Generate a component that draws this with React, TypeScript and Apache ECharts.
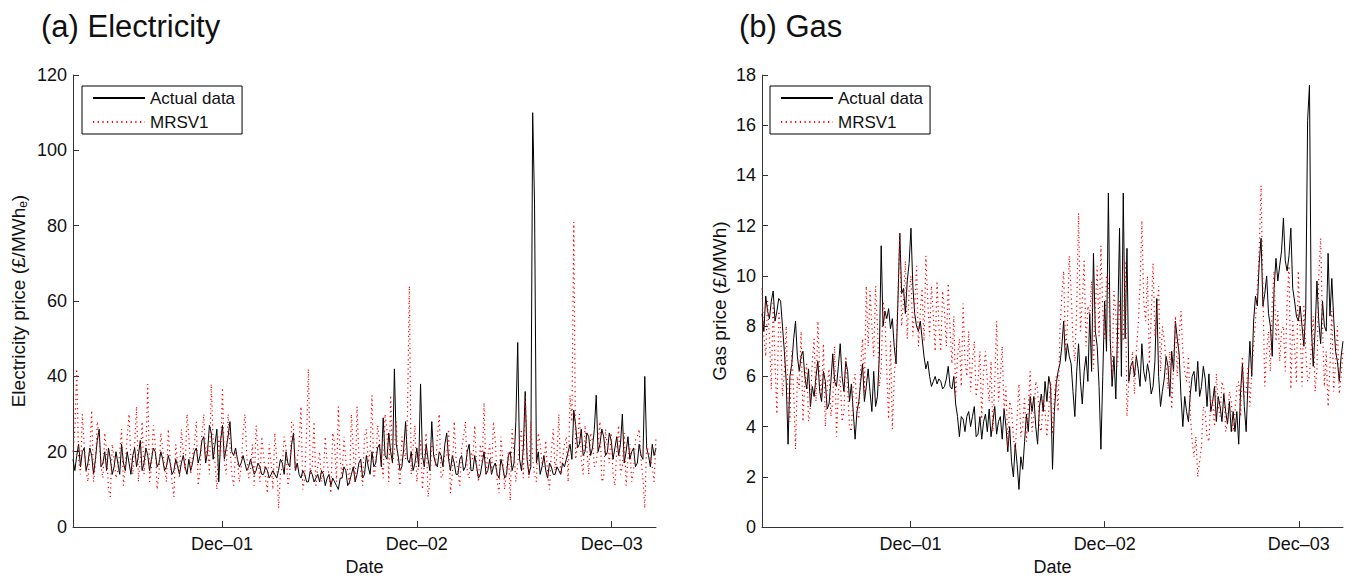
import React, { useEffect, useRef } from "react";
import * as echarts from "echarts";

// Samples every 3.5 days starting 25 Feb 2001: weekly readings plus the mid-week readings in between
const START_DATE = "2001-02-25";
const STEP_DAYS = 7;

const xTickDates = ["2001-12-01", "2002-12-01", "2003-12-01"];
const xTickLabels = ["Dec–01", "Dec–02", "Dec–03"];

const elecActual = [
  18, 19, 16, 21, 17, 19, 18, 26, 17, 15, 18, 16, 17, 22, 15, 17, 19, 16, 23, 17,
  19, 18, 20, 17, 18, 16, 17, 15, 16, 17, 16, 18, 17, 21, 19, 24, 20, 25, 22, 12,
  27, 21, 28, 19, 18, 17, 17, 16, 16, 15, 16, 14, 15, 14, 14, 15, 17, 20, 16, 25,
  17, 13, 14, 12, 14, 13, 12, 14, 13, 11, 12, 10, 13, 15, 12, 16, 14, 18, 14, 16,
  20, 17, 22, 29, 18, 20, 42, 19, 16, 28, 17, 15, 21, 38, 16, 18, 28, 17, 20, 16,
  25, 15, 17, 14, 19, 16, 22, 15, 16, 14, 20, 15, 14, 17, 13, 16, 14, 20, 17, 49,
  15, 36, 14, 110, 17, 14, 19, 13, 16, 14, 15, 17, 18, 22, 31, 21, 26, 20, 24, 21,
  35, 22, 24, 20, 23, 21, 19, 30, 20, 18, 21, 17, 19, 40, 19, 22, 21,
];
const elecActualMid = [
  15, 22, 20, 15, 21, 14, 23, 16, 20, 21, 14, 20, 14, 17, 20, 14, 21, 19, 15, 21,
  15, 21, 16, 20, 15, 19, 14, 18, 14, 19, 14, 15, 20, 17, 23, 17, 27, 18, 26, 23,
  18, 24, 20, 21, 16, 19, 15, 18, 14, 17, 14, 16, 13, 15, 13, 18, 14, 17, 22, 15,
  14, 15, 12, 15, 12, 14, 15, 11, 14, 13, 11, 13, 16, 11, 14, 12, 17, 13, 19, 14,
  16, 21, 16, 19, 25, 17, 22, 15, 21, 18, 20, 17, 16, 19, 22, 15, 19, 16, 19, 22,
  18, 19, 14, 18, 15, 20, 15, 19, 13, 17, 14, 18, 16, 14, 18, 13, 19, 15, 28, 18,
  21, 18, 16, 86, 20, 16, 15, 17, 14, 16, 14, 16, 20, 18, 27, 22, 19, 25, 19, 26,
  20, 26, 19, 25, 18, 24, 22, 17, 24, 20, 16, 22, 18, 21, 16, 19,
];

const elecModel = [
  20, 42, 14, 22, 12, 31, 17, 24, 13, 20, 8, 18, 15, 26, 16, 30, 14, 32, 18, 14,
  38, 16, 22, 14, 21, 12, 18, 8, 17, 26, 15, 24, 19, 28, 15, 30, 22, 38, 17, 24,
  37, 14, 22, 11, 18, 16, 30, 13, 22, 27, 12, 19, 9, 17, 25, 5, 16, 21, 14, 27,
  18, 32, 13, 42, 16, 11, 20, 14, 17, 9, 22, 32, 13, 18, 11, 20, 32, 15, 24, 17,
  35, 16, 23, 13, 26, 35, 20, 16, 24, 18, 64, 21, 12, 23, 17, 8, 22, 16, 30, 14,
  19, 9, 28, 15, 21, 28, 13, 18, 16, 22, 33, 19, 14, 23, 9, 18, 15, 7, 20, 17,
  26, 35, 13, 18, 12, 22, 16, 14, 20, 15, 30, 18, 24, 35, 81, 22, 18, 27, 14, 23,
  17, 28, 13, 21, 25, 11, 27, 16, 11, 22, 15, 24, 18, 5, 20, 16, 24,
];
const elecModelMid = [
  26, 18, 30, 15, 20, 12, 28, 16, 25, 10, 22, 13, 20, 11, 24, 18, 22, 12, 28, 20,
  12, 27, 10, 25, 16, 26, 12, 22, 13, 20, 30, 14, 22, 11, 25, 18, 14, 23, 10, 19,
  17, 30, 14, 20, 12, 25, 19, 15, 11, 20, 24, 13, 22, 10, 18, 14, 24, 11, 28, 15,
  22, 10, 25, 14, 28, 16, 12, 24, 14, 25, 12, 18, 24, 15, 30, 12, 19, 11, 26, 20,
  13, 27, 18, 30, 12, 17, 28, 11, 21, 30, 14, 27, 17, 10, 25, 12, 20, 24, 13, 20,
  26, 14, 18, 11, 24, 15, 20, 27, 12, 17, 14, 22, 28, 12, 24, 10, 20, 26, 12, 22,
  13, 20, 28, 14, 25, 17, 23, 10, 26, 19, 14, 22, 12, 28, 18, 30, 14, 21, 25, 16,
  22, 12, 26, 17, 14, 20, 14, 25, 18, 12, 23, 26, 13, 22, 18, 12,
];

const gasActual = [
  8.5, 9.2, 8.3, 9.4, 8.6, 9.0, 7.0, 3.3, 6.5, 8.2, 6.2, 7.0, 5.5, 4.8, 5.2, 6.6, 5.0, 5.8, 4.9, 6.9,
  5.6, 7.3, 5.4, 6.2, 5.7, 3.5, 5.0, 6.5, 5.6, 5.4, 6.2, 5.2, 11.2, 8.6, 8.7, 8.3, 6.5, 11.7, 9.5, 9.8,
  11.9, 8.5, 7.8, 7.5, 6.3, 6.0, 5.8, 5.7, 5.8, 5.6, 6.4, 5.5, 4.9, 3.6, 4.3, 4.4, 4.0, 4.8, 3.7, 3.5,
  4.5, 4.7, 4.2, 3.7, 4.4, 4.7, 3.0, 2.6, 3.3, 1.5, 2.3, 4.5, 5.2, 5.2, 3.3, 5.3, 5.8, 6.0, 2.3, 5.7,
  6.5, 8.2, 7.3, 6.5, 4.4, 7.3, 4.9, 6.8, 8.5, 10.9, 7.2, 3.1, 9.0, 13.3, 5.6, 5.1, 11.9, 13.3, 11.1, 6.4,
  6.0, 6.3, 7.3, 5.8, 6.1, 5.6, 9.1, 4.8, 5.9, 6.4, 7.0, 8.2, 6.9, 4.0, 4.6, 5.3, 6.2, 6.6, 5.6, 5.9,
  6.1, 5.0, 4.2, 4.8, 5.3, 4.1, 3.8, 3.8, 3.3, 6.5, 3.8, 7.4, 8.2, 8.8, 11.5, 9.3, 8.5, 6.8, 10.7, 10.4,
  12.3, 10.2, 11.9, 9.0, 8.2, 8.0, 8.7, 17.6, 6.4, 9.8, 7.3, 8.0, 10.9, 9.9, 7.0, 5.8, 7.4,
];
const gasActualMid = [
  7.8, 8.6, 9.0, 8.2, 9.1, 8.0, 5.8, 6.0, 7.5, 6.8, 6.8, 6.0, 6.3, 5.6, 6.0, 5.4, 6.2, 4.7, 5.8, 5.8,
  6.4, 6.0, 6.6, 5.0, 4.6, 4.6, 5.8, 5.0, 6.3, 4.6, 4.8, 6.8, 8.0, 8.3, 7.9, 7.2, 9.0, 9.3, 8.5, 10.5,
  9.6, 8.0, 8.2, 6.8, 6.6, 5.6, 6.0, 5.9, 5.5, 5.9, 5.6, 6.0, 4.4, 4.4, 3.8, 4.6, 4.4, 3.6, 4.4, 4.2,
  3.8, 3.6, 4.8, 4.2, 3.5, 4.0, 4.0, 2.0, 2.5, 2.8, 3.4, 3.8, 4.6, 4.0, 4.8, 4.6, 5.0, 5.6, 4.6, 6.2,
  7.2, 6.6, 6.8, 5.4, 6.2, 5.8, 6.2, 5.8, 6.2, 7.8, 5.6, 6.0, 7.0, 7.5, 6.8, 8.0, 6.0, 7.5, 5.8, 6.6,
  6.8, 5.6, 6.2, 6.5, 5.3, 6.6, 6.0, 5.4, 6.8, 5.2, 6.2, 7.5, 5.2, 5.2, 4.2, 6.0, 5.4, 5.2, 6.4, 4.8,
  4.6, 5.6, 5.2, 4.2, 4.6, 5.0, 4.6, 4.6, 5.4, 4.8, 5.8, 6.0, 9.2, 10.5, 8.8, 10.0, 8.0, 9.5, 9.8, 11.0,
  10.6, 10.8, 9.5, 8.4, 8.8, 7.2, 16.2, 8.0, 7.8, 8.2, 9.0, 7.8, 8.4, 8.3, 6.6, 6.8,
];

const gasModel = [
  9.5, 6.8, 7.5, 9.0, 4.5, 7.8, 6.2, 5.0, 7.0, 3.1, 5.5, 4.2, 6.5, 4.8, 7.5, 8.2, 5.2, 4.0, 6.3, 5.0,
  3.6, 6.0, 4.6, 5.5, 3.8, 6.1, 4.3, 7.5, 9.6, 9.4, 6.8, 8.0, 6.3, 8.5, 4.3, 3.9, 7.0, 11.7, 9.0, 7.5,
  10.0, 8.8, 7.2, 9.5, 10.8, 7.6, 8.4, 9.8, 7.0, 8.6, 9.7, 6.5, 5.2, 7.5, 8.9, 6.0, 5.4, 7.4, 5.8, 4.3,
  7.0, 5.0, 3.8, 8.2, 6.0, 4.6, 3.2, 4.7, 3.0, 5.7, 4.0, 3.4, 6.2, 4.4, 5.5, 3.8, 4.6, 4.7, 3.7, 6.0,
  7.8, 10.2, 8.0, 9.4, 6.6, 12.5, 9.0, 7.2, 8.4, 6.3, 10.4, 11.2, 7.5, 9.8, 6.0, 8.5, 9.0, 7.4, 4.4, 6.2,
  5.3, 8.0, 12.2, 8.2, 6.5, 10.5, 8.5, 6.2, 7.5, 5.5, 4.7, 8.4, 7.6, 7.0, 5.8, 4.5, 2.8, 2.0, 3.2, 4.6,
  3.4, 5.0, 6.1, 4.4, 5.5, 4.2, 5.0, 4.6, 5.8, 6.8, 5.4, 4.8, 7.2, 9.5, 13.6, 5.6, 7.8, 9.0, 7.4, 6.6,
  8.0, 9.0, 5.5, 7.2, 10.2, 5.6, 7.0, 6.0, 8.4, 6.3, 11.5, 5.6, 4.8, 8.6, 6.5, 5.3, 7.0,
];
const gasModelMid = [
  7.6, 9.0, 5.5, 6.5, 8.6, 5.2, 8.0, 4.2, 5.4, 6.0, 7.8, 5.8, 4.2, 6.6, 5.0, 6.2, 7.3, 5.6, 4.4, 7.2,
  5.4, 4.2, 6.8, 4.0, 5.6, 4.6, 6.4, 5.4, 7.2, 8.0, 9.6, 5.6, 9.0, 6.2, 7.4, 6.0, 9.2, 8.0, 10.6, 9.4,
  7.6, 10.4, 8.6, 7.4, 9.0, 9.6, 7.0, 8.0, 9.4, 7.2, 7.8, 8.4, 6.8, 5.6, 6.6, 7.8, 6.6, 5.2, 7.0, 6.2,
  5.8, 6.6, 5.8, 5.0, 7.2, 5.6, 5.0, 3.6, 4.4, 3.6, 5.2, 4.8, 3.8, 5.8, 4.0, 5.2, 3.6, 5.8, 5.2, 4.6,
  9.2, 7.0, 10.8, 7.4, 8.8, 7.8, 10.6, 8.8, 9.8, 8.6, 7.6, 8.6, 10.0, 7.4, 9.4, 6.4, 8.0, 10.6, 5.8, 7.0,
  7.0, 9.6, 9.0, 10.0, 8.4, 7.6, 9.6, 8.0, 6.4, 7.0, 6.4, 6.0, 8.6, 6.2, 6.8, 3.4, 3.6, 2.6, 4.8, 3.6,
  5.2, 4.0, 4.8, 5.8, 3.8, 5.4, 3.8, 5.6, 4.4, 5.2, 6.4, 6.2, 8.2, 11.0, 9.4, 7.0, 6.2, 10.2, 8.6, 7.8,
  6.2, 10.4, 8.2, 5.8, 7.8, 8.8, 5.8, 7.2, 5.4, 10.0, 8.0, 7.0, 6.4, 5.4, 8.0, 6.0,
];

const FONT = "'Liberation Sans', Arial, Helvetica, sans-serif";
const DAY = 86400000;

function toSeries(weekly: number[], mid: number[]) {
  const t0 = Date.parse(START_DATE + "T00:00:00Z");
  const out: number[][] = [];
  weekly.forEach((v, i) => {
    out.push([t0 + i * STEP_DAYS * DAY, v]);
    if (i < mid.length && i < weekly.length - 1) {
      out.push([t0 + (i + 0.5) * STEP_DAYS * DAY, mid[i]]);
    }
  });
  return out;
}

export default function App() {
  const ref = useRef<HTMLDivElement>(null);

  useEffect(() => {
    document.body.style.margin = "0";
    const chart = echarts.init(ref.current!, null, { renderer: "svg" });
    const t0 = Date.parse(START_DATE + "T00:00:00Z");
    const tEnd = t0 + (elecActual.length - 1) * STEP_DAYS * DAY;
    const tickVals = xTickDates.map((d) => Date.parse(d + "T00:00:00Z"));
    const labelFor = (v: number) => {
      const idx = tickVals.findIndex((t) => Math.abs(t - v) < DAY);
      return idx >= 0 ? xTickLabels[idx] : "";
    };

    const axisColor = "#333";
    const makeX = (gridIndex: number) => ({
      type: "value" as const,
      gridIndex,
      min: t0,
      max: tEnd,
      name: "Date",
      nameLocation: "middle" as const,
      nameGap: 30,
      nameTextStyle: { fontFamily: FONT, fontSize: 18, color: "#111" },
      axisLine: { show: true, lineStyle: { color: axisColor, width: 1 } },
      axisTick: { show: true, inside: true, length: 6, customValues: tickVals, lineStyle: { color: axisColor } },
      axisLabel: {
        show: true,
        customValues: tickVals,
        formatter: (v: number) => labelFor(v),
        fontFamily: FONT,
        fontSize: 18,
        color: "#111",
        margin: 8,
      },
      splitLine: { show: false },
    });

    const makeY = (gridIndex: number, max: number, interval: number, name: string, nameGap: number) => ({
      type: "value" as const,
      gridIndex,
      min: 0,
      max,
      interval,
      name,
      nameLocation: "middle" as const,
      nameGap,
      nameTextStyle: {
        fontFamily: FONT,
        fontSize: 19,
        color: "#111",
        rich: {
          n: { fontFamily: FONT, fontSize: 19, color: "#111" },
          sub: { fontFamily: FONT, fontSize: 12, color: "#111", padding: [10, 0, 0, 0] },
        },
      },
      axisLine: { show: true, lineStyle: { color: axisColor, width: 1 } },
      axisTick: { show: true, inside: true, length: 6, lineStyle: { color: axisColor } },
      axisLabel: { fontFamily: FONT, fontSize: 18, color: "#111", margin: 6 },
      splitLine: { show: false },
    });

    const legendBase = {
      orient: "vertical" as const,
      top: 86,
      data: ["Actual data", "MRSV1"],
      borderColor: "#000",
      borderWidth: 1,
      backgroundColor: "#fff",
      padding: [2, 7, 2, 10],
      itemGap: 4,
      itemWidth: 52,
      itemHeight: 20,
      itemStyle: { opacity: 0 },
      textStyle: { fontFamily: FONT, fontSize: 17, color: "#111", lineHeight: 20 },
      selectedMode: false,
    };

    const blackStyle = { color: "#000", width: 1 };
    const redStyle = { color: "#ff0000", width: 1.2, type: [1.2, 3.5] as any };

    chart.setOption({
      animation: false,
      backgroundColor: "#fff",
      title: [
        { text: "(a) Electricity", left: 36, top: 6, textStyle: { fontFamily: FONT, fontSize: 31, fontWeight: "normal", color: "#111" } },
        { text: "(b) Gas", left: 734, top: 6, textStyle: { fontFamily: FONT, fontSize: 31, fontWeight: "normal", color: "#111" } },
      ],
      legend: [
        { ...legendBase, left: 82 },
        { ...legendBase, left: 770 },
      ],
      grid: [
        { left: 73, right: 690, top: 75, bottom: 49 },
        { left: 762, right: 3, top: 75, bottom: 49 },
      ],
      xAxis: [makeX(0), makeX(1)],
      yAxis: [
        makeY(0, 120, 20, "{n|Electricity price (£/MWh}{sub|e}{n|)}", 44),
        makeY(1, 18, 2, "{n|Gas price (£/MWh)}", 33),
      ],
      series: [
        { name: "Actual data", type: "line", xAxisIndex: 0, yAxisIndex: 0, data: toSeries(elecActual, elecActualMid), showSymbol: false, symbol: "none", lineStyle: blackStyle, itemStyle: { color: "#000" } },
        { name: "MRSV1", type: "line", xAxisIndex: 0, yAxisIndex: 0, data: toSeries(elecModel, elecModelMid), showSymbol: false, symbol: "none", lineStyle: redStyle, itemStyle: { color: "#ff0000" } },
        { name: "Actual data", type: "line", xAxisIndex: 1, yAxisIndex: 1, data: toSeries(gasActual, gasActualMid), showSymbol: false, symbol: "none", lineStyle: blackStyle, itemStyle: { color: "#000" } },
        { name: "MRSV1", type: "line", xAxisIndex: 1, yAxisIndex: 1, data: toSeries(gasModel, gasModelMid), showSymbol: false, symbol: "none", lineStyle: redStyle, itemStyle: { color: "#ff0000" } },
      ],
    });
    return () => chart.dispose();
  }, []);

  return <div ref={ref} style={{ position: "absolute", left: 0, top: 0, width: 1346, height: 581 }} />;
}
